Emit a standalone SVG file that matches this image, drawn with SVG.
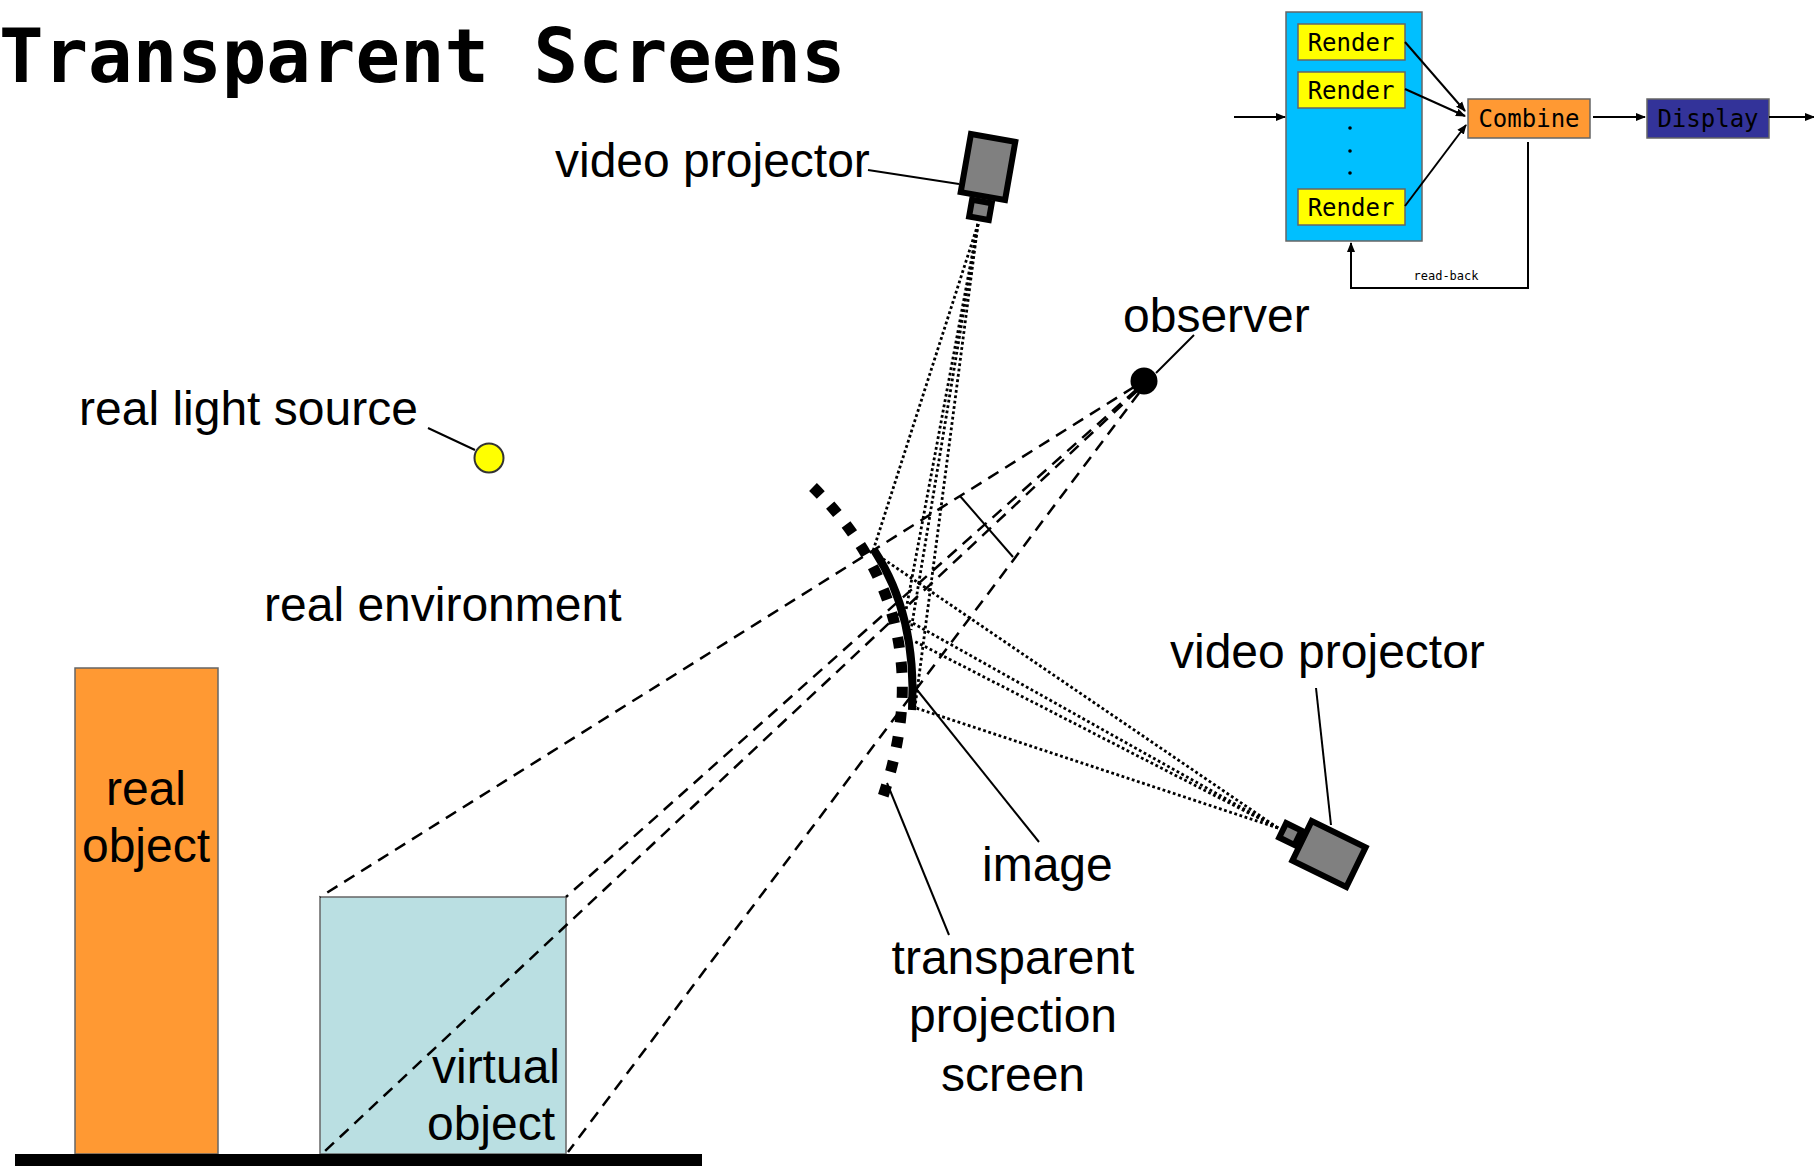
<svg xmlns="http://www.w3.org/2000/svg" width="1814" height="1166" viewBox="0 0 1814 1166">
  <defs>
    <marker id="arrow" viewBox="0 0 10 10" refX="9" refY="5" markerWidth="5" markerHeight="5" orient="auto" markerUnits="strokeWidth">
      <path d="M0,1 L10,5 L0,9 z" fill="#000"/>
    </marker>
    <style>
      .lbl { font-family: "Liberation Sans", Arial, sans-serif; font-size: 48px; fill: #000; }
      .mono { font-family: "DejaVu Sans Mono", "Liberation Mono", monospace; fill: #000; }
      .box { stroke: #666; stroke-width: 1.5; }
      .flow { stroke: #000; stroke-width: 2; fill: none; }
      .leader { stroke: #000; stroke-width: 2; fill: none; }
      .ray { stroke: #000; stroke-width: 2.8; stroke-dasharray: 2.8 2.6; fill: none; }
      .sight { stroke: #000; stroke-width: 2.5; stroke-dasharray: 12 8; fill: none; }
      .proj { fill: #808080; stroke: #000; stroke-width: 6; }
    </style>
  </defs>

  <rect width="1814" height="1166" fill="#fff"/>

  <!-- title -->
  <text class="mono" x="-1" y="82" font-size="74" font-weight="bold">Transparent Screens</text>

  <!-- rendering pipeline -->
  <g id="pipeline">
    <g id="render-group">
      <rect class="box" x="1286" y="12" width="136" height="229" fill="#00BFFF"/>
      <circle cx="1350" cy="128" r="1.8" fill="#000"/>
      <circle cx="1350" cy="151" r="1.8" fill="#000"/>
      <circle cx="1350" cy="173" r="1.8" fill="#000"/>
    </g>
    <g id="render1">
      <rect class="box" x="1298" y="24" width="107" height="36" fill="#FFFF00"/>
      <text class="mono" x="1351" y="51" font-size="24" text-anchor="middle">Render</text>
    </g>
    <g id="render2">
      <rect class="box" x="1298" y="72" width="107" height="36" fill="#FFFF00"/>
      <text class="mono" x="1351" y="99" font-size="24" text-anchor="middle">Render</text>
    </g>
    <g id="render3">
      <rect class="box" x="1298" y="189" width="107" height="36" fill="#FFFF00"/>
      <text class="mono" x="1351" y="216" font-size="24" text-anchor="middle">Render</text>
    </g>
    <g id="combine">
      <rect class="box" x="1468" y="99" width="122" height="39" fill="#FF9933"/>
      <text class="mono" x="1529" y="127" font-size="24" text-anchor="middle">Combine</text>
    </g>
    <g id="display">
      <rect class="box" x="1647" y="99" width="122" height="39" fill="#333399"/>
      <text class="mono" x="1708" y="127" font-size="24" text-anchor="middle">Display</text>
    </g>
    <g id="pipeline-connectors">
      <line class="flow" x1="1234" y1="117" x2="1285" y2="117" marker-end="url(#arrow)"/>
      <line class="flow" x1="1405" y1="42" x2="1465" y2="111" marker-end="url(#arrow)"/>
      <line class="flow" x1="1405" y1="89" x2="1465" y2="116" marker-end="url(#arrow)"/>
      <line class="flow" x1="1405" y1="206" x2="1466" y2="125" marker-end="url(#arrow)"/>
      <line class="flow" x1="1593" y1="117" x2="1645" y2="117" marker-end="url(#arrow)"/>
      <line class="flow" x1="1769" y1="117" x2="1814" y2="117" marker-end="url(#arrow)"/>
      <polyline class="flow" points="1528,142 1528,288 1351,288 1351,243" marker-end="url(#arrow)"/>
      <text class="mono" x="1446" y="280" font-size="12" text-anchor="middle">read-back</text>
    </g>
  </g>

  <!-- scene objects -->
  <g id="real-object">
    <rect class="box" x="75" y="668" width="143" height="486" fill="#FF9933"/>
    <text class="lbl" x="146" y="805" text-anchor="middle">real</text>
    <text class="lbl" x="146" y="862" text-anchor="middle">object</text>
  </g>
  <g id="virtual-object">
    <rect class="box" x="320" y="897" width="246" height="257" fill="#BADFE2"/>
    <text class="lbl" x="496" y="1083" text-anchor="middle">virtual</text>
    <text class="lbl" x="491" y="1140" text-anchor="middle">object</text>
  </g>
  <g id="floor">
    <rect x="15" y="1154" width="687" height="12" fill="#000"/>
  </g>

  <!-- rays and lines of sight -->
  <g id="connectors">
    <!-- upper projector to screen -->
    <line class="ray" x1="978" y1="224" x2="873" y2="551"/>
    <line class="ray" x1="978" y1="224" x2="906" y2="610"/>
    <line class="ray" x1="978" y1="224" x2="911" y2="630"/>
    <line class="ray" x1="978" y1="224" x2="915" y2="707"/>
    <!-- lower projector to screen -->
    <line class="ray" x1="1278" y1="828" x2="876" y2="554"/>
    <line class="ray" x1="1278" y1="828" x2="909" y2="621"/>
    <line class="ray" x1="1278" y1="828" x2="914" y2="641"/>
    <line class="ray" x1="1278" y1="828" x2="916" y2="708"/>
    <!-- observer to virtual object corners -->
    <line class="sight" x1="1134" y1="387" x2="320" y2="897"/>
    <line class="sight" x1="1136" y1="390" x2="566" y2="897"/>
    <line class="sight" x1="1137" y1="391" x2="324" y2="1152"/>
    <line class="sight" x1="1139" y1="393" x2="568" y2="1152"/>
    <!-- viewing angle mark -->
    <line class="leader" x1="960" y1="496" x2="1013" y2="557"/>
  </g>

  <!-- transparent projection screen -->
  <g id="screen">
    <path d="M813,487 Q947,620 880,805" fill="none" stroke="#000" stroke-width="11" stroke-dasharray="11 14"/>
    <path d="M874,550 Q917,615 912,710" fill="none" stroke="#000" stroke-width="8"/>
  </g>

  <g id="observer">
    <circle cx="1144" cy="381" r="13.5" fill="#000"/>
    <line class="leader" x1="1156" y1="373" x2="1194" y2="335"/>
    <text class="lbl" x="1123" y="332">observer</text>
  </g>

  <g id="light-source">
    <circle cx="489" cy="458" r="14.5" fill="#FFFF00" stroke="#333" stroke-width="2"/>
    <line class="leader" x1="428" y1="428" x2="475" y2="450"/>
    <text class="lbl" x="79" y="425">real light source</text>
  </g>

  <g id="projector-top">
    <g transform="translate(988,167) rotate(10)">
      <rect class="proj" x="-22.5" y="-29.5" width="45" height="59"/>
      <rect class="proj" x="-10" y="35" width="20" height="17" stroke-width="6"/>
    </g>
    <line class="leader" x1="868" y1="170" x2="959" y2="184"/>
    <text class="lbl" x="555" y="177">video projector</text>
  </g>

  <g id="projector-right">
    <g transform="translate(1329,854) rotate(26)">
      <rect class="proj" x="-30" y="-22" width="60" height="44"/>
      <rect class="proj" x="-52" y="-9" width="17" height="16" stroke-width="6"/>
    </g>
    <line class="leader" x1="1316" y1="688" x2="1331" y2="825"/>
    <text class="lbl" x="1170" y="668">video projector</text>
  </g>

  <g id="labels">
    <text class="lbl" x="264" y="621">real environment</text>
    <line class="leader" x1="914" y1="686" x2="1039" y2="842"/>
    <text class="lbl" x="982" y="881">image</text>
    <line class="leader" x1="887" y1="783" x2="949" y2="935"/>
    <text class="lbl" x="1013" y="974" text-anchor="middle">transparent</text>
    <text class="lbl" x="1013" y="1032" text-anchor="middle">projection</text>
    <text class="lbl" x="1013" y="1091" text-anchor="middle">screen</text>
  </g>
</svg>
